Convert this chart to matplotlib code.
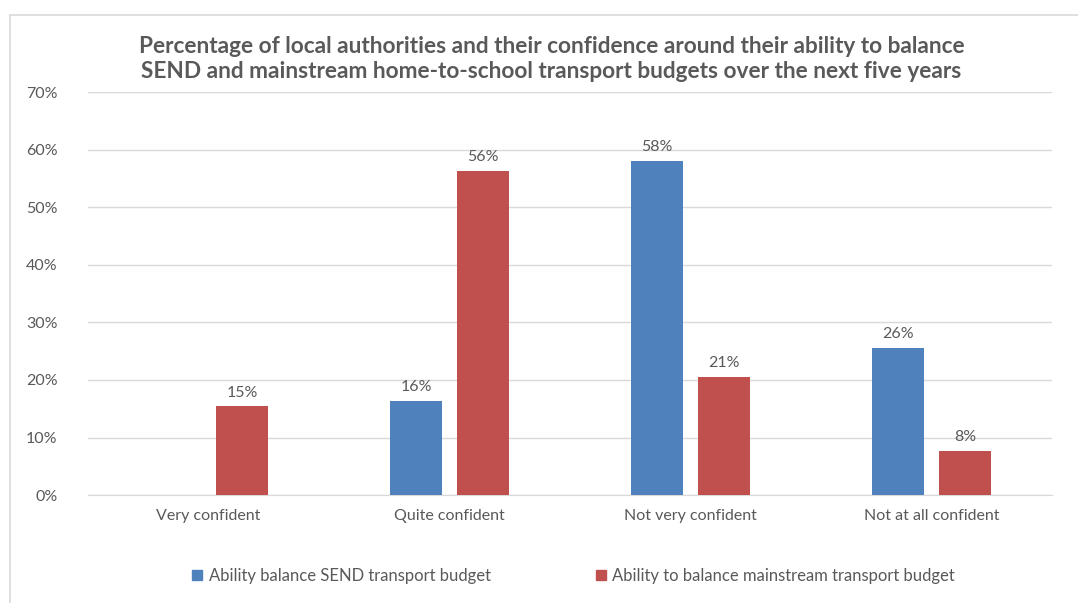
import numpy as np
import matplotlib.pyplot as plt
from matplotlib.lines import Line2D
from matplotlib.patches import Patch

categories = ["Very confident", "Quite confident", "Not very confident", "Not at all confident"]
send_vals = [0, 16.3, 58.1, 25.6]
send_show = [False, True, True, True]
main_vals = [15.4, 56.4, 20.5, 7.7]
series_names = ["Ability balance SEND transport budget",
                "Ability to balance mainstream transport budget"]
title = ("Percentage of local authorities and their confidence around their ability to balance\n"
         "SEND and mainstream home-to-school transport budgets over the next five years")

plt.rcParams['font.family'] = ['Lato', 'DejaVu Sans']
grey = "#595959"
blue = "#4F81BD"
red = "#C0504D"


def pct(v):
    # round half up, like Excel
    return f"{int(v + 0.5)}%"


fig = plt.figure(figsize=(10.78, 6.03), dpi=100)
ax = fig.add_axes([0.0816, 0.179, 0.8944, 0.668])

# chart frame
fig.add_artist(Line2D([10/1078, 1.0], [1 - 15/603, 1 - 15/603], color="#D9D9D9", lw=1.2))
fig.add_artist(Line2D([10/1078, 10/1078], [0, 1 - 15/603], color="#D9D9D9", lw=1.2))

x = np.arange(len(categories))
w = 0.217
off = 0.139
ax.bar(x - off, send_vals, w, color=blue, zorder=3)
ax.bar(x + off, main_vals, w, color=red, zorder=3)

for i, v in enumerate(send_vals):
    if send_show[i]:
        ax.annotate(pct(v), (x[i] - off, v), xytext=(0, 5), textcoords="offset points",
                    ha="center", va="bottom", fontsize=11.5, color=grey)
for i, v in enumerate(main_vals):
    ax.annotate(pct(v), (x[i] + off, v), xytext=(0, 5), textcoords="offset points",
                ha="center", va="bottom", fontsize=11.5, color=grey)

ax.set_xlim(-0.5, len(categories) - 0.5)
ax.set_ylim(0, 70)
ax.set_yticks(np.arange(0, 71, 10))
ax.set_yticklabels([f"{t}%" for t in range(0, 71, 10)])
ax.set_xticks(x)
ax.set_xticklabels(categories)
ax.tick_params(axis="both", length=0, labelsize=11.5, colors=grey)
ax.tick_params(axis="y", pad=22)
ax.tick_params(axis="x", pad=10)
ax.grid(axis="y", color="#D9D9D9", lw=1, zorder=0)
for s in ["top", "right", "left"]:
    ax.spines[s].set_visible(False)
ax.spines["bottom"].set_color("#D9D9D9")

fig.text(0.5116, 1 - 59/603, title, ha="center", va="center", fontsize=16.3,
         fontweight="bold", color=grey, linespacing=1.2)

handles = [Patch(color=blue), Patch(color=red)]
fig.legend(handles, series_names, loc="center", bbox_to_anchor=(0.532, 1 - 576/603),
           ncol=2, frameon=False, fontsize=12, labelcolor=grey, handlelength=0.6,
           handleheight=0.6, handletextpad=0.4, columnspacing=6.3)

fig.savefig("out.png", dpi=100)
